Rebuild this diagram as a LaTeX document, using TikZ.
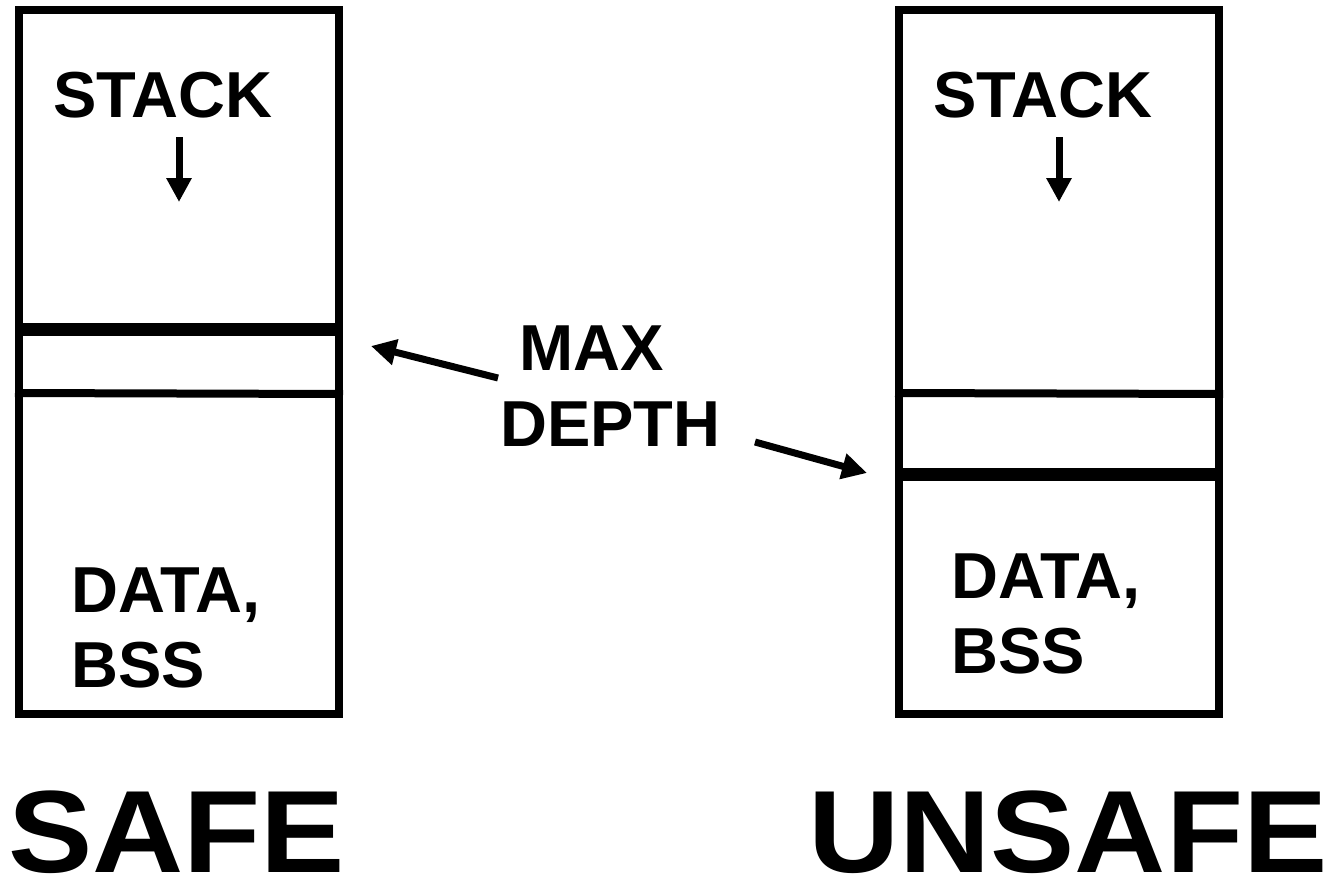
\documentclass[tikz,border=0pt]{standalone}
\usepackage{fontspec}
\setmainfont{Liberation Sans}
\newfontfamily\widefont[FakeStretch=1.08]{Liberation Sans}
\usetikzlibrary{arrows.meta}
\begin{document}
\begin{tikzpicture}[x=1pt,y=-1pt,
  frame/.style={line width=8pt},
  thin/.style={line width=8pt},
  thick/.style={line width=13pt},
  lbl/.style={anchor=base west,inner sep=0pt,font=\fontsize{65}{75}\selectfont\bfseries},
  big/.style={anchor=base west,inner sep=0pt,font=\widefont\fontsize{117}{120}\selectfont\bfseries},
  arr/.style={line width=7pt,-{Triangle[length=25pt,width=25pt]}},
  sarr/.style={line width=7pt,-{Triangle[length=24pt,width=24pt]}}]
\useasboundingbox (0,0) rectangle (1334,884);
% left box
\draw[frame] (19,10) rectangle (339,714);
\draw[thick] (15,329.5) -- (343,329.5);
\draw[thin] (15,393) -- (343,394);
% right box
\draw[frame] (899,10) rectangle (1219,714);
\draw[thin] (895,393) -- (1223,394);
\draw[thick] (895,474.5) -- (1223,474.5);
% texts
\node[lbl] (s1) at (53,117) {STACK};
\node[lbl] (s2) at (933,117) {STACK};
\node[lbl] (d1) at (71,612) {DATA,};
\node[lbl] (b1) at (71,687) {BSS};
\node[lbl] (d2) at (951,598) {DATA,};
\node[lbl] (b2) at (951,673) {BSS};
\node[lbl] (m) at (519,370) {MAX};
\node[lbl] (dp) at (500,446) {DEPTH};
\node[big] (safe) at (8,872) {SAFE};
\node[big] (unsafe) at (808,872) {UNSAFE};
% stack arrows
\coordinate (a1s) at (179,137);
\coordinate (a1e) at (179,202);
\coordinate (a2s) at (1059,137);
\coordinate (a2e) at (1059,202);
\draw[sarr] (a1s) -- (a1e);
\draw[sarr] (a2s) -- (a2e);
% max depth arrows
\coordinate (l1) at (498,378);
\coordinate (l2) at (371,346);
\coordinate (r1) at (755,442);
\coordinate (r2) at (867,473);
\draw[arr] (l1) -- (l2);
\draw[arr] (r1) -- (r2);
\end{tikzpicture}
\end{document}
